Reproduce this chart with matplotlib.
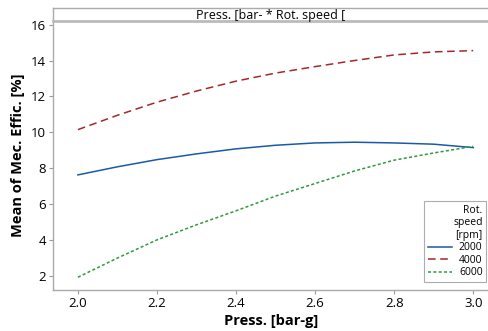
import matplotlib
matplotlib.use("Agg")

import matplotlib.pyplot as plt

plt.rcParams["font.family"] = ["Open Sans", "DejaVu Sans"]

press = [2.0, 2.1, 2.2, 2.3, 2.4, 2.5, 2.6, 2.7, 2.8, 2.9, 3.0]
eff_2000 = [7.63, 8.08, 8.48, 8.80, 9.08, 9.28, 9.41, 9.45, 9.41, 9.34, 9.15]
eff_4000 = [10.15, 10.95, 11.68, 12.30, 12.85, 13.30, 13.66, 14.00, 14.31, 14.48, 14.55]
eff_6000 = [1.93, 3.00, 4.01, 4.85, 5.63, 6.45, 7.15, 7.85, 8.45, 8.85, 9.22]
speeds = ["2000", "4000", "6000"]

x_ticks = [2.0, 2.2, 2.4, 2.6, 2.8, 3.0]
y_ticks = [2, 4, 6, 8, 10, 12, 14, 16]

fig = plt.figure(figsize=(4.89, 3.31), dpi=100)
ax = fig.add_axes([53 / 489, 1 - 290 / 331, 436 / 489, 269 / 331])

ax.plot(press, eff_2000, color="#1a5aa6", lw=1.1, ls="-", label=speeds[0])
ax.plot(press, eff_4000, color="#a3282a", lw=1.1, ls=(0, (5, 3)), label=speeds[1])
ax.plot(press, eff_6000, color="#2e9a3e", lw=1.1, ls=(0, (2, 1.5)), label=speeds[2])

ax.set_xlim(1.937, 3.04)
ax.set_ylim(1.22, 16.2)
ax.set_xticks(x_ticks)
ax.set_xticklabels([f"{v:.1f}" for v in x_ticks])
ax.set_yticks(y_ticks)
ax.tick_params(direction="out", length=3, width=0.8, color="#999999",
               labelsize=9.5, pad=2)

for side in ["top", "right"]:
    ax.spines[side].set_visible(False)
for side in ["left", "bottom"]:
    ax.spines[side].set_color("#aaaaaa")
    ax.spines[side].set_linewidth(1.0)

ax.set_xlabel("Press. [bar-g]", fontsize=10.5, fontweight="bold", labelpad=3)
ax.set_ylabel("Mean of Mec. Effic. [%]", fontsize=10.5, fontweight="bold", labelpad=4)

# strip header on top of the panel
strip = fig.add_axes([53 / 489, 1 - 21 / 331, 436 / 489, 13 / 331])
strip.set_xticks([])
strip.set_yticks([])
for side in ["top", "left"]:
    strip.spines[side].set_color("#aaaaaa")
    strip.spines[side].set_linewidth(1.0)
strip.spines["bottom"].set_color("#bbbbbb")
strip.spines["bottom"].set_linewidth(2.0)
strip.spines["right"].set_visible(False)
strip.text(0.5, 0.45, "Press. [bar- * Rot. speed [", transform=strip.transAxes,
           ha="center", va="center", fontsize=9)

leg = ax.legend(title="Rot.\nspeed\n[rpm]", loc="upper left",
                bbox_to_anchor=(0.851, 0.331), borderaxespad=0,
                fontsize=7.5, title_fontsize=7.5,
                frameon=True, fancybox=False, handlelength=2.3,
                borderpad=0.35, labelspacing=0.15, handletextpad=0.7)
leg.get_frame().set_edgecolor("#999999")
leg.get_frame().set_linewidth(0.8)
leg._legend_box.align = "right"
leg.get_title().set_multialignment("right")

fig.savefig("out.png", dpi=100)
